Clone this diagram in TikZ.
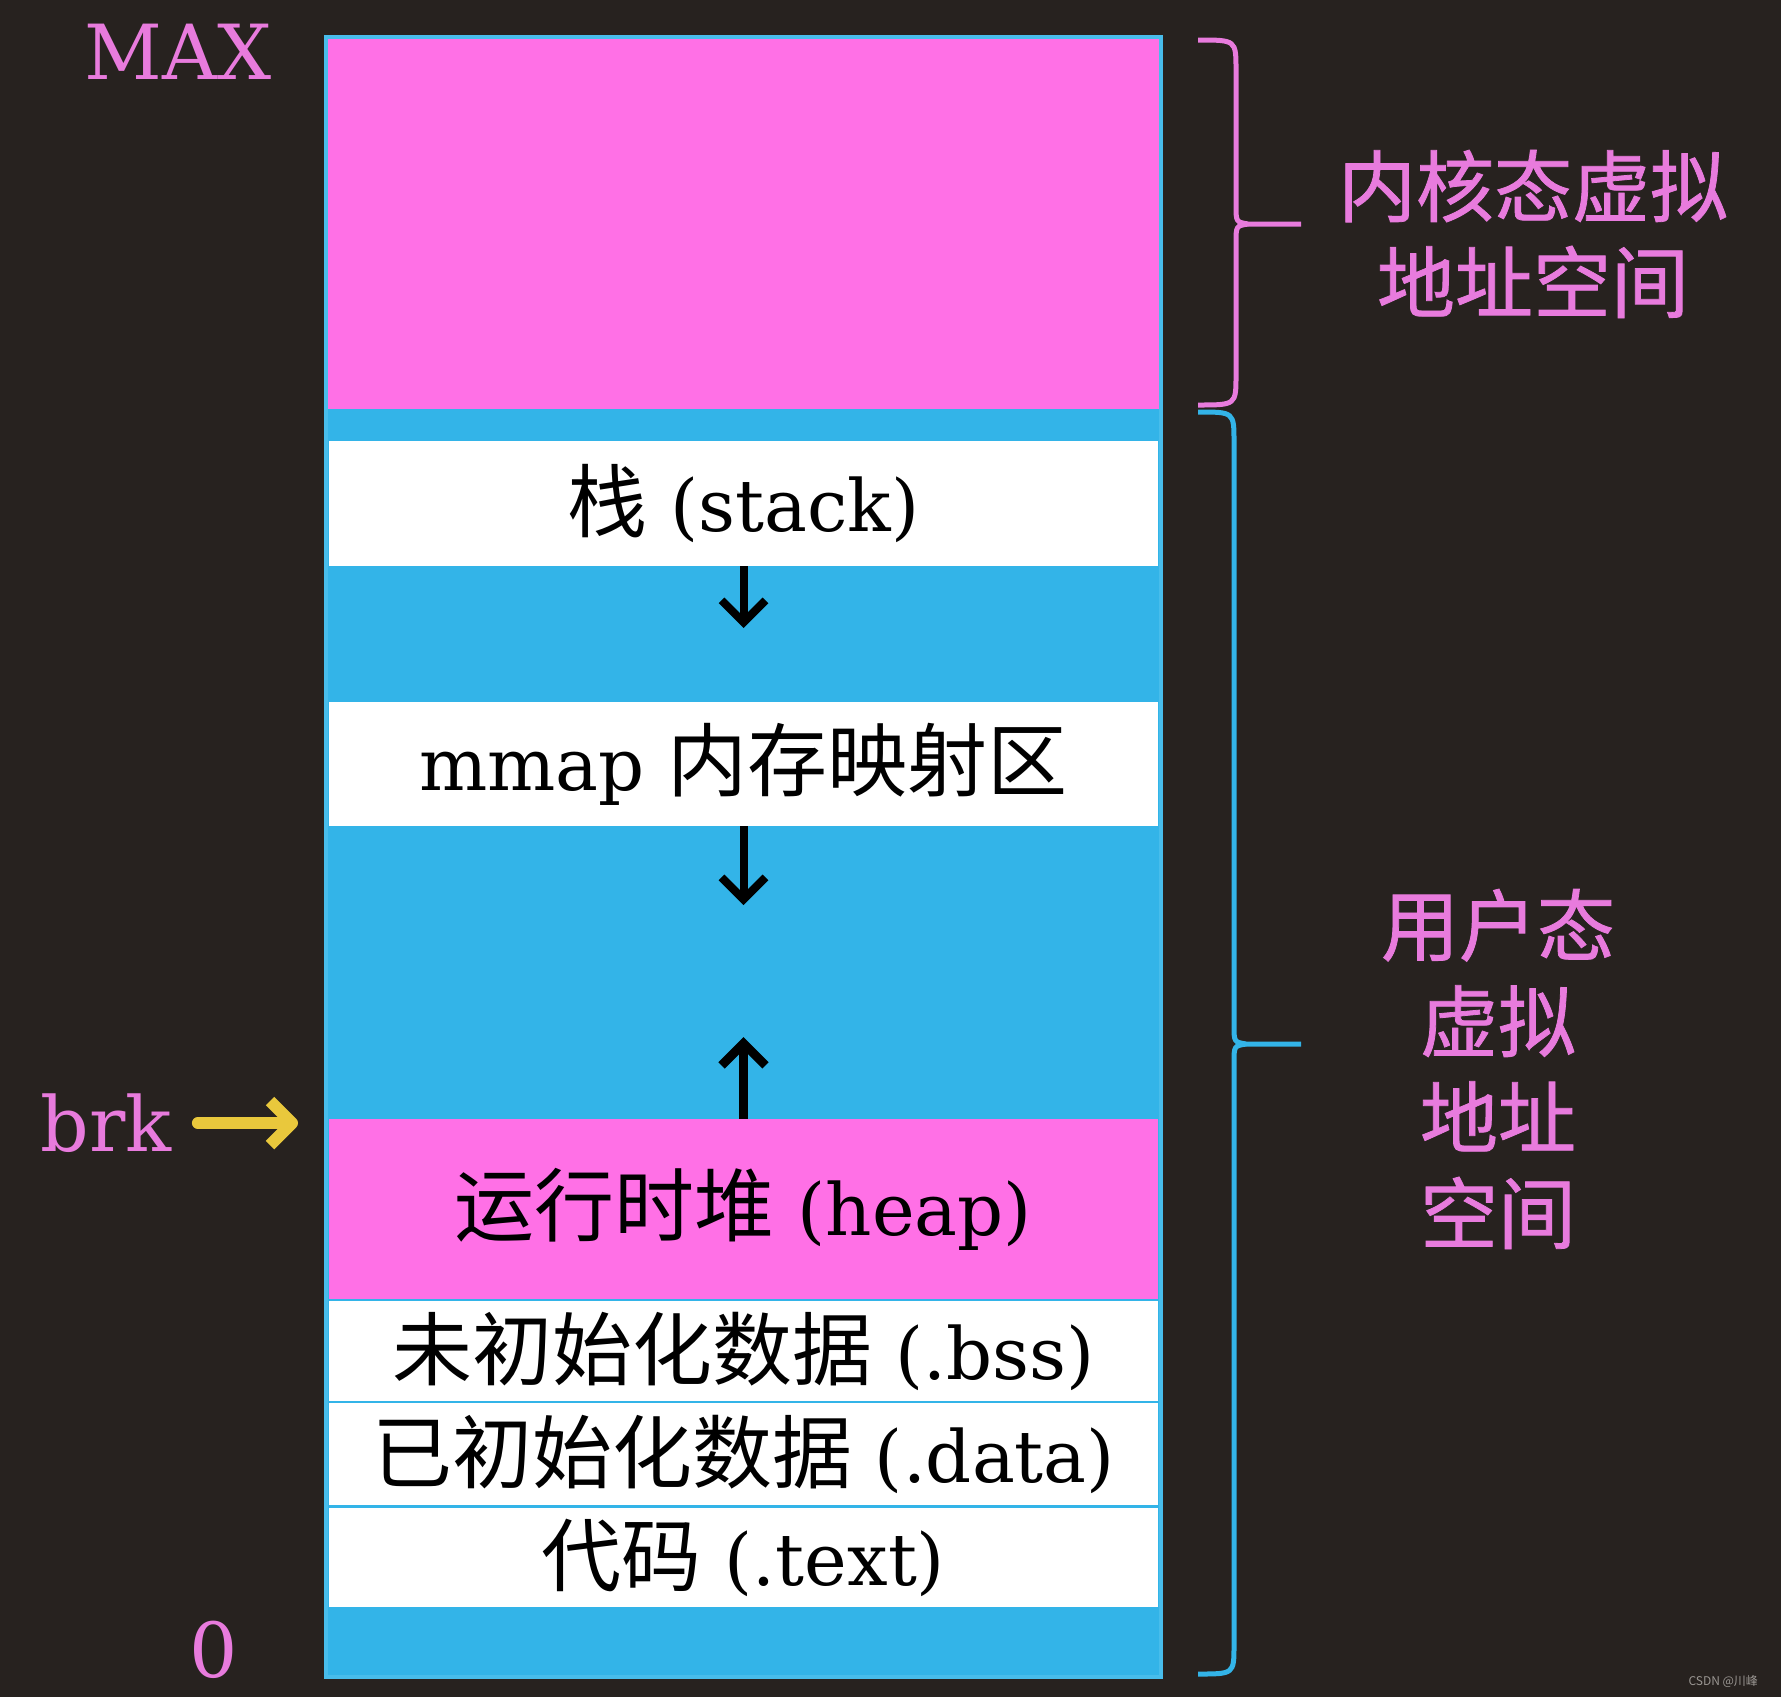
\documentclass[tikz,border=0pt]{standalone}
\usepackage{fontspec}
\setmainfont{DejaVu Serif}
\newfontfamily\cjk{Noto Sans CJK SC}
\newfontfamily\cjkheavy{Noto Sans CJK SC}[FakeBold=1]
\usepackage{tikz}
\usetikzlibrary{arrows.meta,positioning,calc}
\definecolor{bgdark}{HTML}{27221F}
\definecolor{segpink}{HTML}{FF70E6}
\definecolor{segblue}{HTML}{33B4E8}
\definecolor{edgeblue}{HTML}{48BDEB}
\definecolor{labelpink}{HTML}{E87BDD}
\definecolor{brkyellow}{HTML}{E9C83C}
\definecolor{markgray}{HTML}{9A9692}
\newcommand\zh[1]{{\cjk\fontsize{40}{40}\selectfont #1}}
\tikzset{
  seg/.style={rectangle,inner sep=0pt,minimum width=414.5pt,text=black,font=\fontsize{36}{40}\selectfont},
  sidelabel/.style={text=labelpink,inner sep=0pt,align=center,font=\cjkheavy\fontsize{39}{48}\selectfont},
  addrlabel/.style={text=labelpink,inner sep=0pt},
  memarrow/.style={-{Straight Barb[length=11pt,width=22pt]},line width=4pt},
  brkarrow/.style={-{Straight Barb[length=11pt,width=22pt,line join=round]},line width=6pt,brkyellow,line cap=round},
  kbrace/.style={line width=2.5pt,labelpink},
  ubrace/.style={line width=2.5pt,segblue}
}

\begin{document}
\begin{tikzpicture}[x=0.5pt,y=-0.5pt]
  \fill[bgdark] (0,0) rectangle (1781,1697);
  \useasboundingbox (0,0) rectangle (1781,1697);
  % address space column
  \fill[segblue] (326,409) rectangle (1161,1677);
  \fill[segpink] (326,37) rectangle (1161,409);
  \node[seg,fill=white,minimum height=62.5pt] (stack) at (743.5,503.5) {\zh{栈} (stack)};
  \node[seg,fill=white,minimum height=62pt] (mmap) at (743.5,764) {mmap \zh{内存映射区}};
  \node[seg,fill=segpink,minimum height=90pt] (heap) at (743.5,1209) {\zh{运行时堆} (heap)};
  \node[seg,fill=white,minimum height=50pt] (bss) at (743.5,1351) {\zh{未初始化数据} (.bss)};
  \node[seg,fill=white,minimum height=51pt] (data) at (743.5,1454) {\zh{已初始化数据} (.data)};
  \node[seg,fill=white,minimum height=49.5pt] (text) at (743.5,1557.5) {\zh{代码} (.text)};
  \draw[edgeblue,line width=2pt] (326,37) rectangle (1161,1677);
  % growth arrows
  \coordinate (stackend) at (743.5,628);
  \coordinate (mmapend) at (743.5,905);
  \coordinate (heapend) at (743.5,1037);
  \draw[memarrow] (stack.south) -- (stackend);
  \draw[memarrow] (mmap.south) -- (mmapend);
  \draw[memarrow,line width=4.5pt] (heap.north) -- (heapend);
  % addresses
  \node[addrlabel,font=\fontsize{38}{38}\selectfont] (max) at (178,52) {MAX};
  \node[addrlabel,font=\fontsize{38}{38}\selectfont] (zero) at (214,1650) {0};
  \node[addrlabel,font=\fontsize{38}{38}\selectfont] (brk) at (106,1123) {brk};
  \coordinate (brktip) at (298,1123);
  \draw[brkarrow,shorten <=13pt] (brk.east) -- (brktip);
  % braces
  \coordinate (kmid) at (1301,224);
  \coordinate (umid) at (1301,1044);
  \draw[kbrace] (1198,40) .. controls (1236,40) .. (1236,70) -- (1236,205)
    .. controls (1236,222) .. (1248,224) -- (kmid);
  \draw[kbrace] (1248,224) .. controls (1236,226) .. (1236,243) -- (1236,375)
    .. controls (1236,405) .. (1198,405);
  \draw[ubrace] (1198,412) .. controls (1234,412) .. (1234,442) -- (1234,1025)
    .. controls (1234,1042) .. (1246,1044) -- (umid);
  \draw[ubrace] (1246,1044) .. controls (1234,1046) .. (1234,1063) -- (1234,1645)
    .. controls (1234,1674) .. (1198,1674);
  \node[sidelabel] (kernlabel) at (1533,234) {内核态虚拟\\地址空间};
  \node[sidelabel] (userlabel) at (1498,1069) {用户态\\虚拟\\地址\\空间};
  \node[text=markgray,font=\cjk\fontsize{6}{6}\selectfont,anchor=east] (mark) at (1765,1681) {CSDN @川峰};
\end{tikzpicture}
\end{document}
